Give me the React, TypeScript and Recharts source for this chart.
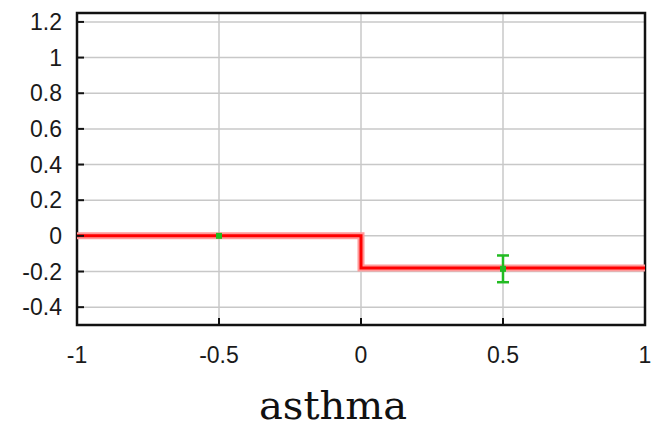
import React from 'react';
import {
  ComposedChart, Line, Scatter, ErrorBar, XAxis, YAxis, CartesianGrid, ReferenceArea,
} from 'recharts';

// step curve (effect of asthma)
const stepX = [-1, 0, 1];
const stepY = [0, -0.18, -0.18];

// measured points with error
const pointX = [-0.5, 0.5];
const pointY = [0, -0.185];
const pointErr = [0, 0.075];

const xTicks = [-1, -0.5, 0, 0.5, 1];
const yTicks = [-0.4, -0.2, 0, 0.2, 0.4, 0.6, 0.8, 1, 1.2];

const stepData = stepX.map((x, i) => ({ x, y: stepY[i] }));
const pointData = pointX.map((x, i) => ({ x, y: pointY[i], err: pointErr[i] }));

const tickFont = { fontFamily: '"Liberation Sans", Arial, sans-serif', fontSize: 23, fill: '#1a1a1a' };

const LeftTick = ({ x, y, payload }: any) => (
  <g>
    <line x1={x} x2={x + 7} y1={y} y2={y} stroke="#111" strokeWidth={2} />
    <text x={x - 15} y={y + 8} textAnchor="end" {...tickFont}>{payload.value}</text>
  </g>
);

const RightTick = ({ x, y }: any) => (
  <line x1={x} x2={x - 7} y1={y} y2={y} stroke="#111" strokeWidth={2} />
);

const BottomTick = ({ x, y, payload }: any) => (
  <g>
    <line x1={x} x2={x} y1={y} y2={y - 7} stroke="#111" strokeWidth={2} />
    <text x={x} y={y + 38} textAnchor="middle" {...tickFont}>{payload.value}</text>
  </g>
);

const AxisTitle = () => (
  <text x={333} y={419} textAnchor="middle" fontFamily='"DejaVu Serif", serif' fontSize={40} fill="#111">
    asthma
  </text>
);

const Dot = ({ cx, cy }: any) => (
  <rect x={cx - 3} y={cy - 3} width={6} height={6} fill="#22bb22" />
);

export default function App() {
  return (
    <div style={{ position: 'absolute', left: 0, top: 0, background: '#fff' }}>
      <ComposedChart width={656} height={432} margin={{ top: 13, right: 0, left: 0, bottom: 0 }}>
        <CartesianGrid stroke="#c8c8c8" strokeWidth={1.5} />
        <XAxis
          dataKey="x"
          type="number"
          domain={[-1, 1]}
          ticks={xTicks}
          height={107}
          tickSize={0}
          tickMargin={0}
          axisLine={false}
          tick={<BottomTick />}
          label={<AxisTitle />}
        />
        <YAxis
          type="number"
          domain={[-0.5, 1.25]}
          ticks={yTicks}
          width={77}
          tickSize={0}
          tickMargin={0}
          axisLine={false}
          tick={<LeftTick />}
        />
        <YAxis
          yAxisId="r"
          orientation="right"
          type="number"
          domain={[-0.5, 1.25]}
          ticks={yTicks}
          width={11}
          tickSize={0}
          tickMargin={0}
          axisLine={false}
          tick={<RightTick />}
        />
        <Line
          data={stepData}
          dataKey="y"
          type="stepAfter"
          stroke="#ff9a9a"
          strokeWidth={7}
          dot={false}
          isAnimationActive={false}
        />
        <Line
          data={stepData}
          dataKey="y"
          type="stepAfter"
          stroke="#ff0000"
          strokeWidth={3}
          dot={false}
          isAnimationActive={false}
        />
        <Scatter data={pointData} dataKey="y" shape={<Dot />} isAnimationActive={false}>
          <ErrorBar dataKey="err" direction="y" width={6} stroke="#22bb22" strokeWidth={2.5} />
        </Scatter>
        <ReferenceArea x1={-1} x2={1} y1={-0.5} y2={1.25} fill="none" stroke="#111" strokeWidth={2.5} />
      </ComposedChart>
    </div>
  );
}
